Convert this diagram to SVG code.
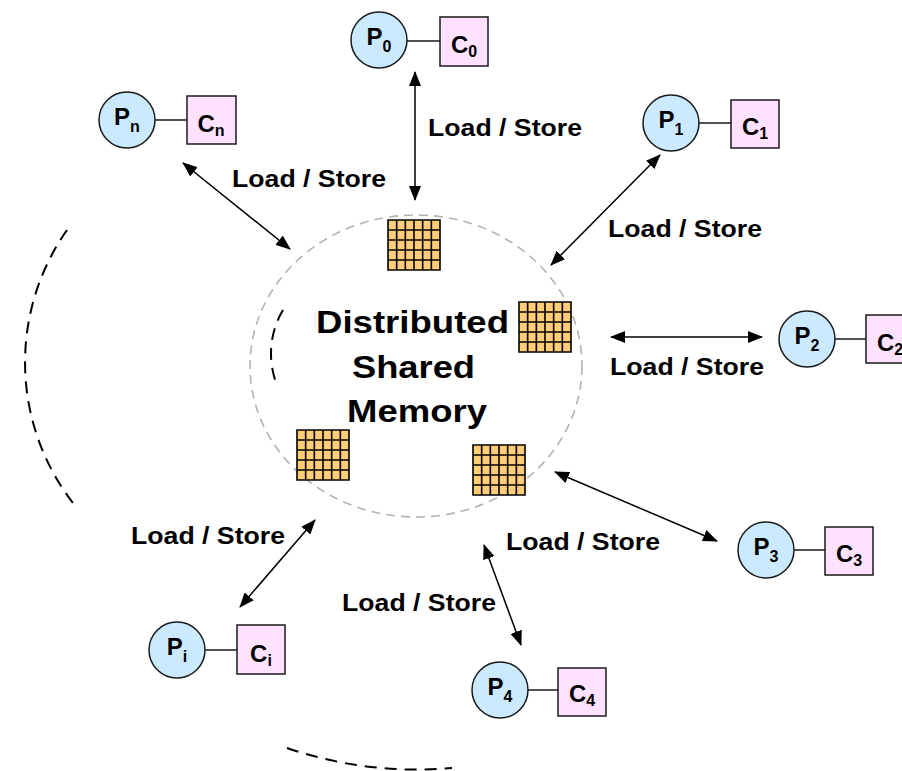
<svg xmlns="http://www.w3.org/2000/svg" width="902" height="771" viewBox="0 0 902 771">
<style>
.bg{fill:#fff}
.proc{fill:#cceaff;stroke:#1a1a1a;stroke-width:1.5}
.cache{fill:#ffe2ff;stroke:#1a1a1a;stroke-width:1.5}
.link{stroke:#1a1a1a;stroke-width:1.5;fill:none}
.lbl{font-family:"Liberation Sans",Arial,sans-serif;font-weight:bold;fill:#000}
.pn{font-size:24px}
.sub{font-size:16px}
.ls{font-size:24px}
.big{font-size:32px}
.arrow{stroke:#000;stroke-width:1.5;fill:none;marker-start:url(#ah);marker-end:url(#ah)}
.dash{stroke:#000;stroke-width:2;fill:none;stroke-dasharray:12 8}
.gdash{stroke:#b3b3b3;stroke-width:1.6;fill:none;stroke-dasharray:9 6}
</style>
<defs>
<marker id="ah" markerUnits="userSpaceOnUse" markerWidth="15" markerHeight="12" refX="14" refY="6" orient="auto-start-reverse" viewBox="0 0 15 12">
<path d="M0,0 L15,6 L0,12 z" fill="#000"/>
</marker>
<g id="grid">
<rect x="0" y="0" width="52" height="50" fill="#ffcc77"/>
<path d="M0,0H52V50H0Z M8.67,0V50 M17.33,0V50 M26,0V50 M34.67,0V50 M43.33,0V50 M0,10H52 M0,20H52 M0,30H52 M0,40H52" stroke="#000" stroke-width="1.6" fill="none"/>
</g>
</defs>
<rect class="bg" x="0" y="0" width="902" height="771"/>

<g id="decor">
<ellipse class="gdash" cx="416" cy="366" rx="166" ry="151"/>
<path class="dash" d="M67,230 A230,230 0 0 0 73,503"/>
<path class="dash" d="M287,748 A400,400 0 0 0 452,768"/>
<path class="dash" d="M283,310 A85,85 0 0 0 277,385"/>
</g>

<g id="memory">
<use href="#grid" x="388" y="220"/>
<use href="#grid" x="519" y="302"/>
<use href="#grid" x="297" y="430"/>
<use href="#grid" x="473" y="445"/>
<text class="lbl big" x="316" y="333" textLength="193" lengthAdjust="spacingAndGlyphs">Distributed</text>
<text class="lbl big" x="352" y="378" textLength="123" lengthAdjust="spacingAndGlyphs">Shared</text>
<text class="lbl big" x="347" y="422" textLength="140" lengthAdjust="spacingAndGlyphs">Memory</text>
</g>

<g id="connectors">
<line class="arrow" x1="415" y1="72" x2="415" y2="200"/>
<line class="arrow" x1="183" y1="163" x2="290" y2="249"/>
<line class="arrow" x1="660" y1="155" x2="551" y2="265"/>
<line class="arrow" x1="611" y1="337" x2="762" y2="337"/>
<line class="arrow" x1="555" y1="472" x2="717" y2="541"/>
<line class="arrow" x1="484" y1="545" x2="521" y2="645"/>
<line class="arrow" x1="315" y1="520" x2="240" y2="607"/>
<text class="lbl ls" x="428" y="136" textLength="154" lengthAdjust="spacingAndGlyphs">Load / Store</text>
<text class="lbl ls" x="232" y="187" textLength="154" lengthAdjust="spacingAndGlyphs">Load / Store</text>
<text class="lbl ls" x="608" y="237" textLength="154" lengthAdjust="spacingAndGlyphs">Load / Store</text>
<text class="lbl ls" x="610" y="375" textLength="154" lengthAdjust="spacingAndGlyphs">Load / Store</text>
<text class="lbl ls" x="506" y="550" textLength="154" lengthAdjust="spacingAndGlyphs">Load / Store</text>
<text class="lbl ls" x="342" y="611" textLength="154" lengthAdjust="spacingAndGlyphs">Load / Store</text>
<text class="lbl ls" x="131" y="544" textLength="154" lengthAdjust="spacingAndGlyphs">Load / Store</text>
</g>

<g id="node-p0">
<line class="link" x1="407" y1="41" x2="440" y2="41"/>
<circle class="proc" cx="379" cy="40" r="28"/>
<rect class="cache" x="440" y="17" width="48" height="49"/>
<text class="lbl pn" x="379" y="45" text-anchor="middle">P<tspan class="sub" dy="7">0</tspan></text>
<text class="lbl pn" x="464" y="53" text-anchor="middle">C<tspan class="sub" dy="4">0</tspan></text>
</g>

<g id="node-pn">
<line class="link" x1="155" y1="120" x2="187" y2="120"/>
<circle class="proc" cx="127" cy="120" r="28"/>
<rect class="cache" x="187" y="96" width="49" height="48"/>
<text class="lbl pn" x="127" y="125" text-anchor="middle">P<tspan class="sub" dy="7">n</tspan></text>
<text class="lbl pn" x="211" y="132" text-anchor="middle">C<tspan class="sub" dy="4">n</tspan></text>
</g>

<g id="node-p1">
<line class="link" x1="699" y1="123" x2="731" y2="123"/>
<circle class="proc" cx="671" cy="123" r="28"/>
<rect class="cache" x="731" y="100" width="48" height="48"/>
<text class="lbl pn" x="671" y="128" text-anchor="middle">P<tspan class="sub" dy="7">1</tspan></text>
<text class="lbl pn" x="755" y="135" text-anchor="middle">C<tspan class="sub" dy="4">1</tspan></text>
</g>

<g id="node-p2">
<line class="link" x1="835" y1="339" x2="866" y2="339"/>
<circle class="proc" cx="807" cy="339" r="28"/>
<rect class="cache" x="866" y="315" width="48" height="48"/>
<text class="lbl pn" x="807" y="344" text-anchor="middle">P<tspan class="sub" dy="7">2</tspan></text>
<text class="lbl pn" x="890" y="351" text-anchor="middle">C<tspan class="sub" dy="4">2</tspan></text>
</g>

<g id="node-p3">
<line class="link" x1="794" y1="550" x2="825" y2="550"/>
<circle class="proc" cx="766" cy="550" r="28"/>
<rect class="cache" x="825" y="527" width="48" height="48"/>
<text class="lbl pn" x="766" y="555" text-anchor="middle">P<tspan class="sub" dy="7">3</tspan></text>
<text class="lbl pn" x="849" y="562" text-anchor="middle">C<tspan class="sub" dy="4">3</tspan></text>
</g>

<g id="node-p4">
<line class="link" x1="528" y1="690" x2="558" y2="690"/>
<circle class="proc" cx="500" cy="690" r="28"/>
<rect class="cache" x="558" y="668" width="48" height="48"/>
<text class="lbl pn" x="500" y="695" text-anchor="middle">P<tspan class="sub" dy="7">4</tspan></text>
<text class="lbl pn" x="582" y="702" text-anchor="middle">C<tspan class="sub" dy="4">4</tspan></text>
</g>

<g id="node-pi">
<line class="link" x1="205" y1="650" x2="237" y2="650"/>
<circle class="proc" cx="177" cy="650" r="28"/>
<rect class="cache" x="237" y="625" width="48" height="49"/>
<text class="lbl pn" x="177" y="655" text-anchor="middle">P<tspan class="sub" dy="7">i</tspan></text>
<text class="lbl pn" x="261" y="662" text-anchor="middle">C<tspan class="sub" dy="4">i</tspan></text>
</g>
</svg>
